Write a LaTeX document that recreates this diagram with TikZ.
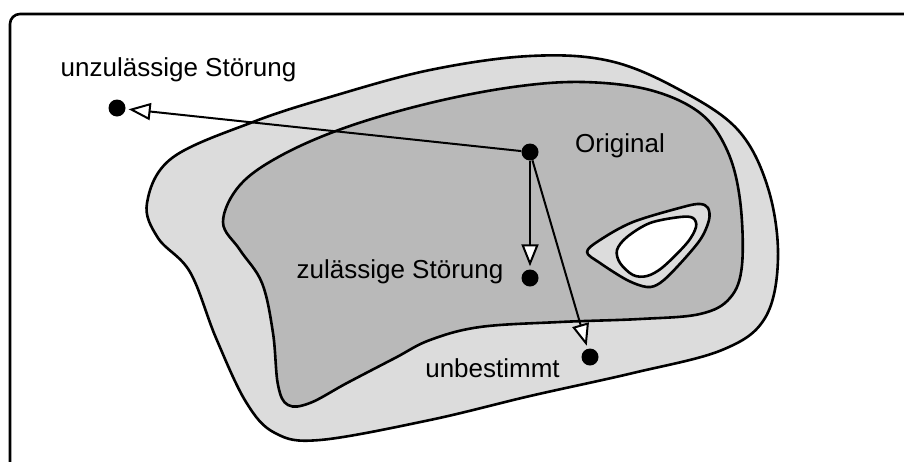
\documentclass[tikz,border=0pt]{standalone}
\usepackage{fontspec}
\setmainfont{Liberation Sans}
\usetikzlibrary{arrows.meta}
\definecolor{bandgray}{HTML}{DCDCDC}
\definecolor{coregray}{HTML}{B9B9B9}
\tikzset{
  outline/.style={line width=2.6pt, line join=round},
  dotnode/.style={circle, fill=black, inner sep=0pt, minimum size=17pt},
  lbl/.style={anchor=base, inner sep=0pt, font=\fontsize{26}{31}\selectfont},
  arr/.style={line width=2pt, -{Triangle[length=22pt,width=17pt,fill=white,line width=2pt]}, shorten >=3pt},
  frame/.style={line width=2.6pt, rounded corners=10pt}
}
\begin{document}
\begin{tikzpicture}[x=1pt,y=-1pt]
\useasboundingbox (0,0) rectangle (904,461);
\draw[frame] (10,475) -- (10,14) -- (920,14);
% outer band
\path[fill=bandgray, draw=black, outline] plot[smooth cycle, tension=0.6] coordinates {
 (147,203) (172,158) (253,122) (330,97) (430,70) (530,56) (610,61) (680,90) (738,130) (768,188) (778,258) (765,318) (722,350) (633,373) (530,396) (430,420) (320,440) (275,433) (246,402) (216,338) (190,272) (158,238)};
% core
\path[fill=coregray, draw=black, outline] plot[smooth cycle, tension=0.6] coordinates {
 (223,222) (240,185) (282,155) (347,127) (430,103) (513,87) (583,82) (650,90) (700,113) (727,150) (740,200) (742,265) (730,298) (700,314) (640,319) (560,322) (480,327) (430,340) (395,358) (347,383) (310,403) (288,405) (278,385) (273,333) (262,283) (240,250)};
% hole band
\path[fill=bandgray, draw=black, outline] plot[smooth cycle, tension=0.55] coordinates {
 (587,252) (600,240) (633,222) (683,207) (700,204) (708,208) (709,220) (700,240) (677,267) (660,283) (647,287) (627,280) (600,263)};
% hole
\path[fill=white, draw=black, outline] plot[smooth cycle, tension=0.55] coordinates {
 (617,250) (627,237) (650,223) (680,217) (693,218) (696,227) (687,243) (663,267) (647,276) (633,275) (620,263)};
% dots
\node[dotnode] (src) at (530,152) {};
\node[dotnode] (unz) at (117,108) {};
\node[dotnode] (zul) at (530,278) {};
\node[dotnode] (unb) at (590,357) {};
\draw[arr] (src) -- (unz);
\draw[arr] (src) -- (zul);
\draw[arr] (src) -- (unb);
% labels
\node[lbl] (tunz) at (178.5,76) {unzulässige Störung};
\node[lbl] (torig) at (620,152) {Original};
\node[lbl] (tzul) at (400,278) {zulässige Störung};
\node[lbl] (tunb) at (492.5,377) {unbestimmt};
\end{tikzpicture}
\end{document}
